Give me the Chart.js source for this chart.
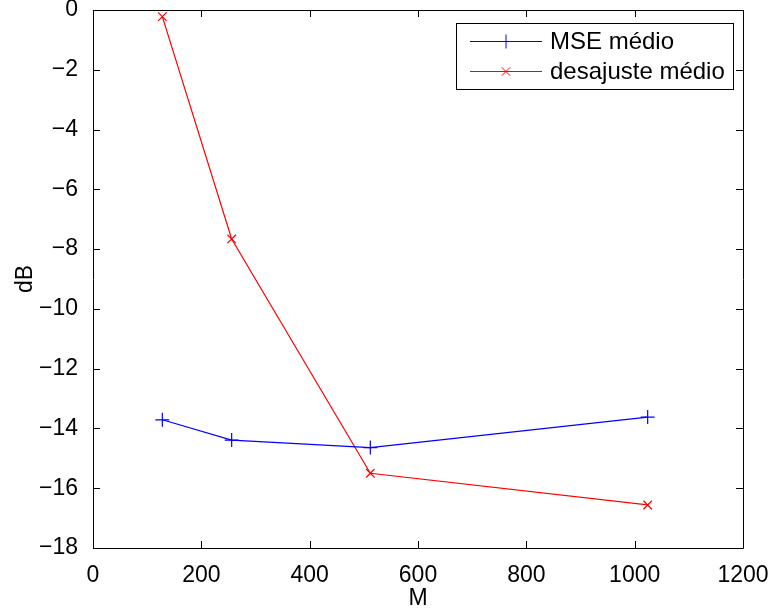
<!DOCTYPE html>
<html>
<head>
<meta charset="utf-8">
<script src="https://cdn.jsdelivr.net/npm/chart.js@4"></script>
<style>
  html, body { margin: 0; padding: 0; background: #fff; }
  canvas { display: block; }
</style>
</head>
<body>
<canvas id="c" width="771" height="612"></canvas>
<script>
const mValues = [128, 256, 512, 1024];
const mseMedio = [-13.71, -14.39, -14.64, -13.62];
const desajusteMedio = [-0.22, -7.66, -15.5, -16.56];
const xTicks = [0, 200, 400, 600, 800, 1000, 1200];
const yTicks = [0, -2, -4, -6, -8, -10, -12, -14, -16, -18];

const FONT = '"Liberation Sans", Arial, Helvetica, sans-serif';

const toPoints = (xs, ys) => xs.map((x, i) => ({ x: x, y: ys[i] }));
const fmt = v => (v < 0 ? '\u2212' + Math.abs(v) : String(v));

// box around the axes with inward ticks on all four sides, plus the legend
const boxPlugin = {
  id: 'box',
  afterDraw: chart => {
    const ctx = chart.ctx;
    const a = chart.chartArea;
    const xs = chart.scales.x;
    const ys = chart.scales.y;
    const tick = 7;
    ctx.save();
    ctx.strokeStyle = '#000';
    ctx.lineWidth = 1;
    ctx.beginPath();
    ctx.rect(Math.round(a.left) + 0.5, Math.round(a.top) + 0.5,
      Math.round(a.right - a.left), Math.round(a.bottom - a.top));
    xTicks.forEach(v => {
      const px = Math.round(xs.getPixelForValue(v)) + 0.5;
      ctx.moveTo(px, a.bottom); ctx.lineTo(px, a.bottom - tick);
      ctx.moveTo(px, a.top); ctx.lineTo(px, a.top + tick);
    });
    yTicks.forEach(v => {
      const py = Math.round(ys.getPixelForValue(v)) + 0.5;
      ctx.moveTo(a.left, py); ctx.lineTo(a.left + tick, py);
      ctx.moveTo(a.right, py); ctx.lineTo(a.right - tick, py);
    });
    ctx.stroke();

    // legend
    const lx = 456.5, ly = 23.5, lw = 277, lh = 66;
    ctx.fillStyle = '#fff';
    ctx.fillRect(lx, ly, lw, lh);
    ctx.strokeRect(lx, ly, lw, lh);
    ctx.font = '24px ' + FONT;
    ctx.textBaseline = 'middle';
    chart.data.datasets.forEach((ds, i) => {
      const cy = 41 + i * 30;
      ctx.strokeStyle = ds.borderColor;
      ctx.lineWidth = 1;
      ctx.beginPath();
      ctx.moveTo(470, cy + 0.5); ctx.lineTo(542, cy + 0.5);
      ctx.stroke();
      Chart.helpers.drawPoint(ctx, {
        pointStyle: ds.pointStyle, radius: ds.pointRadius,
        borderWidth: 1, rotation: 0
      }, 506, cy + 0.5);
      ctx.fillStyle = '#000';
      ctx.fillText(ds.label, 550, cy + 1);
    });
    ctx.restore();
  }
};

new Chart(document.getElementById('c'), {
  type: 'line',
  plugins: [boxPlugin],
  data: {
    datasets: [{
      label: 'MSE m\u00e9dio',
      data: toPoints(mValues, mseMedio),
      borderColor: '#0000ff',
      pointBorderColor: '#0000ff',
      borderWidth: 1.2,
      pointStyle: 'cross',
      pointRadius: 7,
      pointBorderWidth: 1.2,
      fill: false,
      tension: 0
    }, {
      label: 'desajuste m\u00e9dio',
      data: toPoints(mValues, desajusteMedio),
      borderColor: '#ff0000',
      pointBorderColor: '#ff0000',
      borderWidth: 1.2,
      pointStyle: 'crossRot',
      pointRadius: 6,
      pointBorderWidth: 1.2,
      fill: false,
      tension: 0
    }]
  },
  options: {
    responsive: false,
    animation: false,
    layout: { padding: { top: 10, right: 28, left: 0, bottom: 0 } },
    plugins: {
      legend: { display: false },
      tooltip: { enabled: false }
    },
    scales: {
      x: {
        type: 'linear',
        min: 0,
        max: 1200,
        afterFit: s => {
          s.height = 64;
          s.paddingLeft = 0;
          s.paddingRight = 0;
        },
        afterBuildTicks: s => { s.ticks = xTicks.map(v => ({ value: v })); },
        grid: { display: false },
        border: { display: false },
        ticks: {
          color: '#000',
          font: { family: FONT, size: 23 },
          padding: 6,
          maxRotation: 0,
          callback: v => fmt(v)
        },
        title: {
          display: true,
          text: 'M',
          color: '#000',
          font: { family: FONT, size: 23 },
          padding: { top: 0, bottom: 0 }
        }
      },
      y: {
        type: 'linear',
        min: -18,
        max: 0,
        afterFit: s => {
          s.width = 93;
          s.paddingTop = 0;
          s.paddingBottom = 0;
        },
        afterBuildTicks: s => { s.ticks = yTicks.map(v => ({ value: v })); },
        grid: { display: false },
        border: { display: false },
        ticks: {
          color: '#000',
          font: { family: FONT, size: 23 },
          padding: 7,
          callback: v => fmt(v)
        },
        title: {
          display: true,
          text: 'dB',
          color: '#000',
          font: { family: FONT, size: 23 },
          padding: { top: 12, bottom: 0 }
        }
      }
    }
  }
});
</script>
</body>
</html>
